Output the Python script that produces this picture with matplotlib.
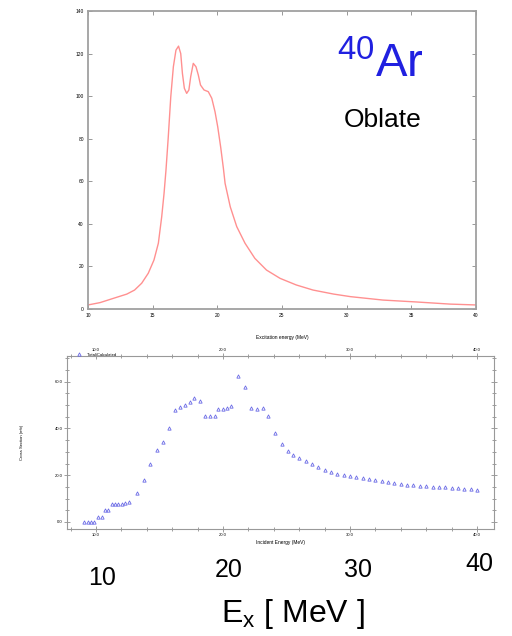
import matplotlib
matplotlib.use("Agg")
import matplotlib.pyplot as plt
from matplotlib.ticker import MultipleLocator

plt.rcParams['font.family'] = ['Liberation Sans', 'DejaVu Sans']
plt.rcParams['mathtext.fontset'] = 'custom'
plt.rcParams['mathtext.rm'] = 'Liberation Sans'
plt.rcParams['mathtext.it'] = 'Liberation Sans'

# top panel: calculated strength, oblate 40Ar
e_top = [10.0, 10.93, 11.96, 13.0, 13.6, 14.15, 14.66, 15.1, 15.44, 15.7, 15.88, 16.03,
         16.2, 16.4, 16.6, 16.8, 17.0, 17.17, 17.3, 17.45, 17.63, 17.8, 17.94, 18.14,
         18.35, 18.53, 18.7, 18.97, 19.3, 19.57, 19.82, 20.03, 20.26, 20.47, 20.6, 21.0,
         21.5, 22.14, 22.9, 23.8, 24.85, 26.1, 27.4, 29.0, 30.3, 32.8, 35.4, 38.0, 40.0]
s_top = [1.9, 3.0, 5.0, 7.0, 8.9, 12.1, 16.8, 23.0, 30.9, 43.4, 54.3, 65.3,
         80.2, 99.7, 113.8, 121.6, 123.5, 120.0, 110.7, 103.7, 101.3, 102.9, 109.1, 115.4,
         113.8, 109.9, 105.2, 102.9, 102.1, 99.0, 92.7, 85.6, 76.0, 66.0, 59.0, 48.0,
         38.7, 30.9, 23.8, 18.3, 14.4, 11.3, 8.9, 7.0, 5.8, 4.2, 3.3, 2.3, 1.9]

# bottom panel: cross section points
e_bot = [9.08, 9.35, 9.58, 9.84, 10.18, 10.45, 10.71, 10.97, 11.24, 11.5, 11.76, 12.02,
         12.28, 12.62, 13.2, 13.78, 14.25, 14.78, 15.3, 15.77, 16.2, 16.6, 17.0, 17.4,
         17.75, 18.2, 18.6, 19.0, 19.35, 19.6, 19.98, 20.3, 20.65, 21.2, 21.7, 22.18,
         22.65, 23.17, 23.57, 24.1, 24.67, 25.1,
         25.5, 26.0, 26.5, 27.0, 27.5, 28.0, 28.5, 29.0, 29.5, 30.0, 30.5, 31.0, 31.5,
         32.0, 32.5, 33.0, 33.5, 34.0, 34.5, 35.0, 35.5, 36.0, 36.5, 37.0, 37.5, 38.0,
         38.5, 39.0, 39.5, 40.0]
s_bot = [0.0, 0.0, 0.0, 0.0, 2.0, 2.3, 5.1, 5.1, 7.7, 7.7, 7.7, 7.7,
         8.0, 8.7, 12.3, 18.0, 24.9, 30.6, 34.4, 40.4, 47.7, 49.0, 50.2, 51.2,
         53.0, 51.9, 45.4, 45.4, 45.4, 48.4, 48.4, 48.6, 49.8, 62.3, 57.6, 48.7,
         48.4, 48.7, 45.4, 38.0, 33.4, 30.4,
         28.7, 27.4, 26.1, 24.8, 23.4, 22.3, 21.4, 20.7, 20.1, 19.7, 19.1, 18.7, 18.3,
         17.9, 17.4, 17.0, 16.6, 16.3, 16.0, 15.7, 15.6, 15.4, 15.1, 15.0, 14.9, 14.7,
         14.4, 14.3, 14.0, 13.7]

top_xticks = [10, 15, 20, 25, 30, 35, 40]
top_yticks = [0, 20, 40, 60, 80, 100, 120, 140]
bot_xticks = [10, 20, 30, 40]
bot_yticks = [0, 20, 40, 60]

fig = plt.figure(figsize=(5.12, 6.36), dpi=100)

# ---- top panel
ax1 = fig.add_axes([88/512, 1-309/636, 388/512, 298/636])
ax1.plot(e_top, s_top, color='#ff9090', lw=1.0)
ax1.set_xlim(10, 40)
ax1.set_ylim(0, 140)
ax1.set_xticks(top_xticks)
ax1.set_yticks(top_yticks)
ax1.tick_params(direction='in', length=3, width=0.6, color='#888888', labelsize=3.5,
                top=True, right=True, pad=3)
for s in ax1.spines.values():
    s.set_color('#a0a0a0')
    s.set_linewidth(1.3)
ax1.set_xlabel('Excitation energy (MeV)', fontsize=3.5, labelpad=12)

fig.text(337/512, 1-77/636, r'$^{40}$Ar', color='#2020e0', fontsize=34,
         ha='left', va='baseline')
fig.text(344/512, 1-127/636, 'Oblate', color='black', fontsize=19,
         ha='left', va='baseline')

# ---- bottom panel
ax2 = fig.add_axes([67/512, 1-529/636, 427/512, 173/636])
ax2.plot(e_bot, s_bot, ls='none', marker='^', ms=2.4, mfc='none', mec='#6a6ae6',
         mew=0.6, label='Total Calculated')
ax2.set_xlim(7.72, 41.34)
ax2.set_ylim(-3, 71)
ax2.set_xticks(bot_xticks)
ax2.set_xticklabels(['%.1f' % v for v in bot_xticks])
ax2.set_yticks(bot_yticks)
ax2.set_yticklabels(['%.1f' % v for v in bot_yticks])
ax2.xaxis.set_minor_locator(MultipleLocator(2))
ax2.yaxis.set_minor_locator(MultipleLocator(5))
ax2.tick_params(which='both', direction='inout', color='#777777', width=0.5,
                labelsize=3, top=True, right=True, labeltop=True, pad=1)
ax2.tick_params(which='major', length=4)
ax2.tick_params(which='minor', length=2.5)
for s in ax2.spines.values():
    s.set_color('#999999')
    s.set_linewidth(0.8)
ax2.set_xlabel('Incident Energy (MeV)', fontsize=3.5, labelpad=2)
ax2.set_ylabel('Cross Section (mb)', fontsize=3, labelpad=22)
ax2.legend(loc='upper left', fontsize=3, frameon=False, handlelength=2.5,
           borderaxespad=0.1, bbox_to_anchor=(0.01, 1.03))

# ---- big energy labels
for txt, x, y in [('10', 102, 585), ('20', 229, 577), ('30', 358, 577), ('40', 479, 571)]:
    fig.text(x/512, 1-y/636, txt, fontsize=18, ha='center', va='baseline')
fig.text(293/512, 1-622/636, r'E$_\mathrm{x}$ [ MeV ]', fontsize=23,
         ha='center', va='baseline')

fig.savefig('out.png', dpi=100)
